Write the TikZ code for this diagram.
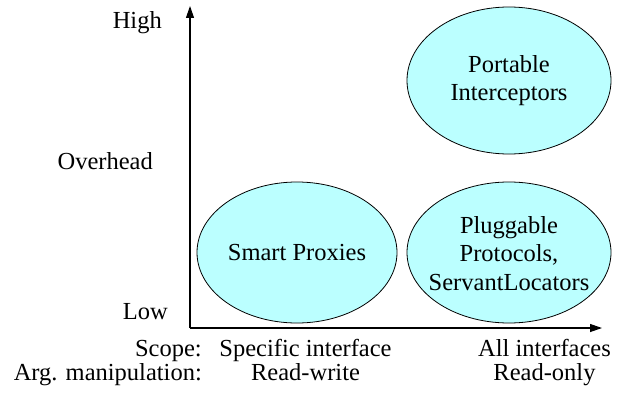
\documentclass[tikz,border=0pt]{standalone}
\usepackage{fontspec}
\setmainfont{Liberation Serif}
\newfontfamily\tms{Liberation Serif}
\usetikzlibrary{shapes.geometric,arrows.meta}
\definecolor{bubble}{RGB}{187,255,255}
\begin{document}
\begin{tikzpicture}[x=1pt,y=-1pt,
  txt/.style={inner sep=0pt,font=\tms\fontsize{24.5}{28.5}\selectfont},
  intxt/.style={inner sep=0pt,align=center,font=\tms\fontsize{24.5}{28.5}\selectfont},
  bubblenode/.style={ellipse,draw=black,line width=0.8pt,fill=bubble,inner sep=0pt},
  axis/.style={line width=1.2pt,-{Triangle[length=12pt,width=8pt]}}]
\useasboundingbox (0,0) rectangle (623,393);
% ellipses
\node[bubblenode,minimum width=204pt,minimum height=147pt] (portable) at (509,80.5) {};
\node[bubblenode,minimum width=200pt,minimum height=141pt] (smart) at (297,252.5) {};
\node[bubblenode,minimum width=204pt,minimum height=141pt] (plug) at (509,252.5) {};
\node[intxt] (portabletxt) at (portable.center) {Portable\\Interceptors};
\node[intxt] (smarttxt) at (smart.center) {Smart Proxies};
\node[intxt] (plugtxt) at ([yshift=-1pt]plug.center) {Pluggable\\Protocols,\\ServantLocators};
% axes
\coordinate (origin) at (190,328);
\coordinate (ytop) at (190,6);
\coordinate (xend) at (602,328);
\draw[axis] (origin) -- (ytop);
\draw[axis] (origin) -- (xend);
% labels
\node[txt,anchor=base east] (high) at (162,29) {High};
\node[txt,anchor=base east] (overhead) at (153,169) {Overhead};
\node[txt,anchor=base east] (low) at (168,319) {Low};
\node[txt,anchor=base east] (scope) at (202,356) {Scope:};
\node[txt,anchor=base east] (arg) at (202,380) {Arg. manipulation:};
\node[txt,anchor=base] (specific) at (305.5,356) {Specific interface};
\node[txt,anchor=base] (rw) at (305.5,380) {Read-write};
\node[txt,anchor=base] (all) at (544.5,356) {All interfaces};
\node[txt,anchor=base] (ro) at (544.5,380) {Read-only};
\end{tikzpicture}
\end{document}
